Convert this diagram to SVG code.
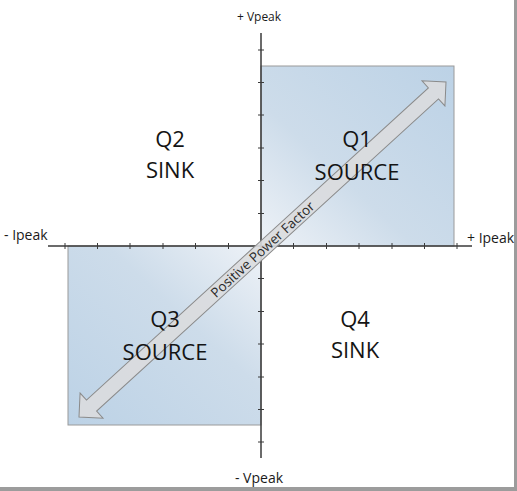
<svg xmlns="http://www.w3.org/2000/svg" width="517" height="491" viewBox="0 0 517 491">
  <style>
    .quad { stroke: #9a9a9a; stroke-width: 1; }
    .axis { stroke: #3a3a3a; stroke-width: 1.5; fill: none; }
    .tick { stroke: #3a3a3a; stroke-width: 1; }
    .lbl { font-family: "Open Sans", "Liberation Sans", sans-serif; font-size: 22px; fill: #141414; text-anchor: middle; }
    .axlbl { font-family: "Open Sans", "Liberation Sans", sans-serif; fill: #1a1a1a; }
    .pf { font-family: "Open Sans", "Liberation Sans", sans-serif; font-size: 13.5px; fill: #2a2a2a; text-anchor: middle; }
  </style>
  <defs>
    <linearGradient id="g1" x1="1" y1="0" x2="0" y2="1">
      <stop offset="0" stop-color="#bcd2e6"/>
      <stop offset="0.6" stop-color="#cddcea"/>
      <stop offset="1" stop-color="#eef2f7"/>
    </linearGradient>
    <linearGradient id="g3" x1="0" y1="1" x2="1" y2="0">
      <stop offset="0" stop-color="#bcd2e6"/>
      <stop offset="0.6" stop-color="#cddcea"/>
      <stop offset="1" stop-color="#eef2f7"/>
    </linearGradient>
  </defs>
  <rect x="0" y="0" width="517" height="491" fill="#ffffff"/>
  <rect x="514" y="0" width="3" height="491" fill="#9c9c9c"/>
  <rect x="0" y="487" width="517" height="4" fill="#9c9c9c"/>

  <g id="q1">
    <rect class="quad" x="261" y="66" width="193" height="180" fill="url(#g1)"/>
  </g>
  <g id="q3">
    <rect class="quad" x="68" y="246" width="193" height="179" fill="url(#g3)"/>
  </g>

  <g id="axes">
    <line class="axis" x1="48" y1="246" x2="472" y2="246"/>
    <line class="axis" x1="261" y1="33" x2="261" y2="458"/>
    <g class="tick">
      <line x1="65" y1="243" x2="65" y2="249"/>
      <line x1="97.5" y1="243" x2="97.5" y2="249"/>
      <line x1="130" y1="243" x2="130" y2="249"/>
      <line x1="163" y1="243" x2="163" y2="249"/>
      <line x1="195.5" y1="243" x2="195.5" y2="249"/>
      <line x1="228.5" y1="243" x2="228.5" y2="249"/>
      <line x1="293.5" y1="243" x2="293.5" y2="249"/>
      <line x1="326.5" y1="243" x2="326.5" y2="249"/>
      <line x1="359" y1="243" x2="359" y2="249"/>
      <line x1="392" y1="243" x2="392" y2="249"/>
      <line x1="424.5" y1="243" x2="424.5" y2="249"/>
      <line x1="457" y1="243" x2="457" y2="249"/>
      <line x1="258" y1="50" x2="264" y2="50"/>
      <line x1="258" y1="82.5" x2="264" y2="82.5"/>
      <line x1="258" y1="115" x2="264" y2="115"/>
      <line x1="258" y1="148" x2="264" y2="148"/>
      <line x1="258" y1="180.5" x2="264" y2="180.5"/>
      <line x1="258" y1="213.5" x2="264" y2="213.5"/>
      <line x1="258" y1="278.5" x2="264" y2="278.5"/>
      <line x1="258" y1="311.5" x2="264" y2="311.5"/>
      <line x1="258" y1="344" x2="264" y2="344"/>
      <line x1="258" y1="377" x2="264" y2="377"/>
      <line x1="258" y1="409.5" x2="264" y2="409.5"/>
      <line x1="258" y1="442" x2="264" y2="442"/>
    </g>
  </g>

  <g id="arrow" transform="translate(262.5 249.5) rotate(-42.4)">
    <polygon points="-248.5,0 -231.5,-17 -231.5,-7.5 231.5,-7.5 231.5,-17 248.5,0 231.5,17 231.5,7.5 -231.5,7.5 -231.5,17" fill="#dadcde" fill-opacity="0.9" stroke="#8a8a8a" stroke-width="1"/>
    <text class="pf" x="0" y="4.8">Positive Power Factor</text>
  </g>

  <g id="labels">
    <text class="lbl" x="170" y="147">Q2</text>
    <text class="lbl" x="170" y="178">SINK</text>
    <text class="lbl" x="357" y="147">Q1</text>
    <text class="lbl" x="357" y="180">SOURCE</text>
    <text class="lbl" x="165" y="327">Q3</text>
    <text class="lbl" x="165" y="360">SOURCE</text>
    <text class="lbl" x="355" y="327">Q4</text>
    <text class="lbl" x="355" y="358">SINK</text>
  </g>

  <g id="axis-labels">
    <text class="axlbl" x="259" y="21" font-size="12" text-anchor="middle">+ Vpeak</text>
    <text class="axlbl" x="259" y="483" font-size="14" text-anchor="middle">- Vpeak</text>
    <text class="axlbl" x="4" y="240" font-size="14">- Ipeak</text>
    <text class="axlbl" x="467" y="243" font-size="14">+ Ipeak</text>
  </g>
</svg>
